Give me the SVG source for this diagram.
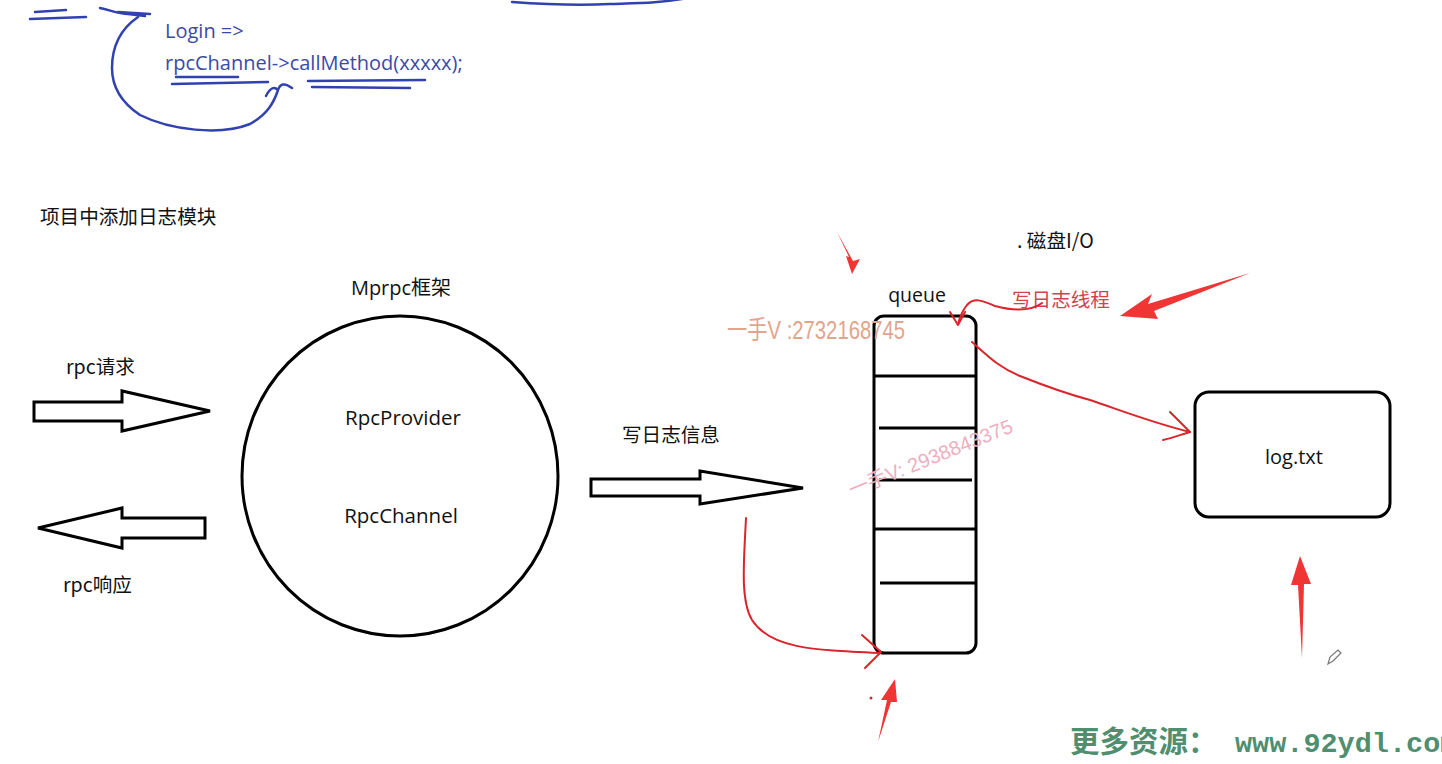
<svg xmlns="http://www.w3.org/2000/svg" width="1442" height="764" viewBox="0 0 1442 764">
<defs>
<style>
.t{font-family:"Noto Sans CJK SC","Noto Sans",sans-serif;fill:#111;font-size:19.6px;}
.lat{font-family:"Open Sans","Noto Sans","Noto Sans CJK SC",sans-serif;fill:#111;}
.blue{font-family:"Open Sans","Noto Sans",sans-serif;fill:#3b4aa6;font-size:20px;}
.bs{fill:none;stroke:#3241b0;stroke-width:2.5;stroke-linecap:round;stroke-linejoin:round;}
.blk{fill:#fff;stroke:#000;stroke-width:3;stroke-linejoin:miter;}
.rs{fill:none;stroke:#d9252b;stroke-width:2;stroke-linecap:round;stroke-linejoin:round;}
.rf{fill:#f03535;stroke:none;}
</style>
</defs>
<rect width="1442" height="764" fill="#fff"/>

<!-- top code annotations -->
<g id="code">
<text class="blue" x="165" y="38">Login =&gt;</text>
<text class="blue" x="165" y="70">rpcChannel-&gt;callMethod(xxxxx);</text>
</g>
<g id="blue-strokes">
<path class="bs" d="M35,12 L66,10 M30,19 L86,17"/>
<path class="bs" d="M100,8 C110,10 118,14 128,14 L145,16 M118,12 L150,14" stroke-width="4.5"/>
<path class="bs" d="M138,17 C122,28 112,45 112,68 C112,88 122,103 140,115 C170,130 220,136 250,124 C268,114 274,102 278,90 C280,84 284,82 292,88 M278,90 C274,86 270,88 266,96"/>
<path class="bs" d="M176,77 L238,77 M172,84 L268,82"/>
<path class="bs" d="M308,81 L425,80 M312,87 L410,88"/>
<path class="bs" d="M512,2 C540,4 570,6 610,4 C640,3 660,3 688,-2"/>
</g>

<text class="t" x="40" y="224">项目中添加日志模块</text>

<!-- Mprpc framework circle -->
<g id="mprpc">
<text class="lat" x="401" y="295" font-size="20" text-anchor="middle">Mprpc框架</text>
<ellipse cx="400" cy="476" rx="158" ry="160" fill="#fff" stroke="#000" stroke-width="3"/>
<text class="lat" x="403" y="425" font-size="20.5" text-anchor="middle">RpcProvider</text>
<text class="lat" x="401" y="523" font-size="20.5" text-anchor="middle">RpcChannel</text>
</g>

<!-- request/response arrows -->
<g id="req">
<text class="t" x="66" y="374">rpc请求</text>
<path class="blk" d="M34,402 L122,402 L122,391 L210,411 L122,431 L122,421 L34,421 Z"/>
</g>
<g id="resp">
<text class="t" x="63" y="592">rpc响应</text>
<path class="blk" d="M38,528 L122,508 L122,518 L205,518 L205,538 L122,538 L122,548 Z"/>
</g>

<!-- write log info arrow -->
<g id="write">
<text class="t" x="622" y="442">写日志信息</text>
<path class="blk" d="M591,479 L700,479 L700,471 L803,488 L700,504 L700,496 L591,496 Z"/>
</g>

<!-- queue -->
<g id="queue">
<text class="lat" x="917" y="302" font-size="19.5" text-anchor="middle">queue</text>
<rect x="874" y="316" width="102" height="337" rx="10" fill="#fff" stroke="#000" stroke-width="3"/>
<path d="M874,376 L976,376 M879,428 L976,428 M879,480 L972,480 M874,529 L976,529 M880,583 L976,583" stroke="#000" stroke-width="3"/>
</g>

<text class="t" x="1017" y="248">. 磁盘I/O</text>
<text class="t" x="1012" y="307" style="fill:#d2424f">写日志线程</text>

<!-- log.txt -->
<g id="logtxt">
<rect x="1195" y="392" width="195" height="125" rx="14" fill="#fff" stroke="#000" stroke-width="3"/>
<text class="lat" x="1294" y="464" font-size="20" text-anchor="middle">log.txt</text>
</g>

<!-- red connectors -->
<g id="connectors">
<path class="rs" d="M746,518 C744,560 740,600 752,620 C770,648 810,650 880,653" stroke-width="2.5"/>
<path class="rs" d="M862,635 L881,652 L865,668" stroke-width="2.5"/>
<path class="rs" d="M972,342 C990,358 1000,368 1020,376 C1040,384 1060,392 1090,400 C1120,410 1150,422 1190,432"/>
<path class="rs" d="M1170,412 C1178,420 1184,426 1190,432 C1180,435 1172,438 1163,440"/>
<path class="rs" d="M1042,303 C1030,312 1010,310 995,306 C985,302 975,296 967,305 C963,310 960,316 958,324"/>
<path class="rs" d="M950,312 L958,325 L965,312"/>
</g>

<!-- red pointer arrows -->
<g id="pointers">
<path class="rf" d="M837,232 L853,261 L860,259 L852,274 L846,256 L849,257 Z"/>
<path class="rf" d="M1250,273 L1148,304 L1152,294 L1120,316 L1158,319 L1154,311 Z"/>
<path class="rf" d="M878,742 L887,700 L881,700 L895,679 L897,702 L891,702 Z"/>
<path class="rf" d="M1302,658 L1298,585 L1291,585 L1300,556 L1311,584 L1304,584 Z"/>
<circle cx="871" cy="698" r="1.5" fill="#c03030"/>
</g>

<!-- pencil cursor -->
<g id="pencil">
<path d="M1328,664 L1330,657 L1338,650 L1341,653 L1333,661 Z" fill="#fff" stroke="#777" stroke-width="1.2"/>
</g>

<!-- watermarks -->
<text x="727" y="339" font-family="'Liberation Sans','Noto Sans CJK SC',sans-serif" font-size="26" fill="#e2a48c" transform="translate(727 339) scale(0.78 1) translate(-727 -339)">一手V :2732168745</text>
<text x="852" y="497" font-family="'Liberation Sans','Noto Sans CJK SC',sans-serif" font-size="20" fill="#eeaebe" transform="rotate(-22 852 497)">一手V: 2938843375</text>
<text x="1070" y="752" font-family="'Noto Sans CJK SC',serif" font-size="29.5" font-weight="bold" fill="#4f8f70">更多资源：<tspan x="1235" font-family="'Liberation Mono',monospace" font-size="28.5">www.92ydl.com</tspan></text>
</svg>
